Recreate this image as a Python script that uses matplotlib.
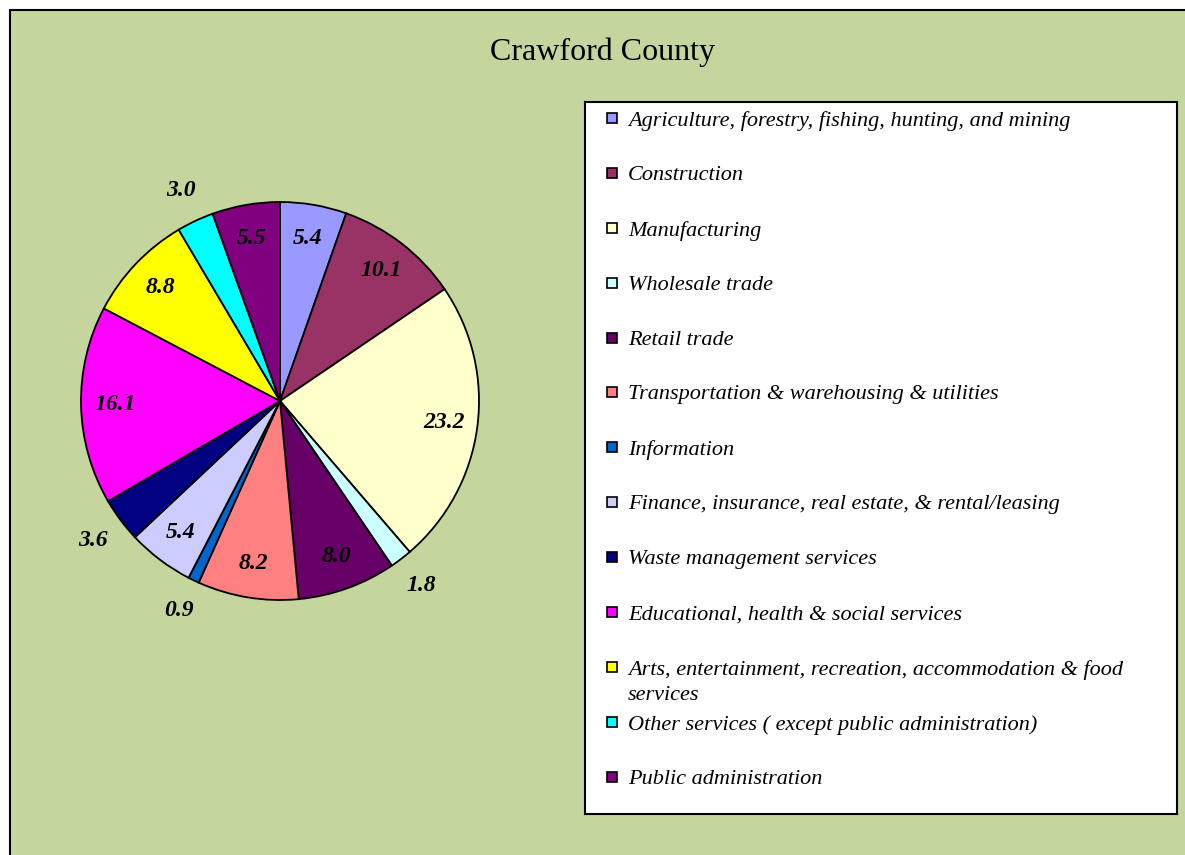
import matplotlib.pyplot as plt
from matplotlib.patches import Rectangle
import numpy as np

plt.rcParams['font.family'] = ['Liberation Serif', 'DejaVu Serif']

categories = ['Agriculture, forestry, fishing, hunting, and mining',
              'Construction',
              'Manufacturing',
              'Wholesale trade',
              'Retail trade',
              'Transportation & warehousing & utilities',
              'Information',
              'Finance, insurance, real estate, & rental/leasing',
              'Waste management services',
              'Educational, health & social services',
              'Arts, entertainment, recreation, accommodation & food\nservices',
              'Other services ( except public administration)',
              'Public administration']
values = [5.4, 10.1, 23.2, 1.8, 8.0, 8.2, 0.9, 5.4, 3.6, 16.1, 8.8, 3.0, 5.5]
colors = ['#9999FF', '#993366', '#FFFFCC', '#CCFFFF', '#660066', '#FF8080',
          '#0066CC', '#CCCCFF', '#000080', '#FF00FF', '#FFFF00', '#00FFFF',
          '#800080']

W, H = 1185, 855
fig = plt.figure(figsize=(W / 100, H / 100), dpi=100)
fig.patch.set_facecolor('white')

# green chart area with black border (runs off right/bottom edge)
fig.add_artist(Rectangle((10 / W, -0.05), 1.1, 1 - 10 / H + 0.05,
                         transform=fig.transFigure, facecolor='#C4D69E',
                         edgecolor='black', linewidth=1.5, zorder=-5))

fig.text(603 / W, 1 - 52 / H, 'Crawford County', ha='center', va='center',
         fontsize=23)

# pie
R = 199
ax = fig.add_axes([(280 - R) / W, (H - 401 - R) / H, 2 * R / W, 2 * R / H])
wedges, _ = ax.pie(values, colors=colors, startangle=90, counterclock=False,
                   wedgeprops=dict(edgecolor='black', linewidth=1.3))
for w, v in zip(wedges, values):
    ang = np.deg2rad((w.theta1 + w.theta2) / 2)
    r = 0.83 if v >= 5 else 1.17
    ax.text(r * np.cos(ang), r * np.sin(ang), f'{v:.1f}', ha='center',
            va='center', fontsize=17, fontweight='bold', fontstyle='italic')
ax.set_xlim(-1, 1)
ax.set_ylim(-1, 1)
ax.set_aspect('equal')
ax.axis('off')

# legend box
lx0, ly0, lx1, ly1 = 585, 102, 1177, 814
lax = fig.add_axes([lx0 / W, (H - ly1) / H, (lx1 - lx0) / W, (ly1 - ly0) / H])
lax.set_xlim(lx0, lx1)
lax.set_ylim(ly1, ly0)
lax.set_xticks([])
lax.set_yticks([])
lax.set_facecolor('white')
for s in lax.spines.values():
    s.set_linewidth(1.5)
for i, (lab, c) in enumerate(zip(categories, colors)):
    yc = 119 + 54.9 * i
    lax.add_patch(Rectangle((607, yc - 6), 10, 10, facecolor=c,
                            edgecolor='black', linewidth=1.2))
    lax.text(628, yc - 8, lab, ha='left', va='top', fontsize=16,
             fontstyle='italic', linespacing=1.45)

fig.savefig('out.png', dpi=100)
